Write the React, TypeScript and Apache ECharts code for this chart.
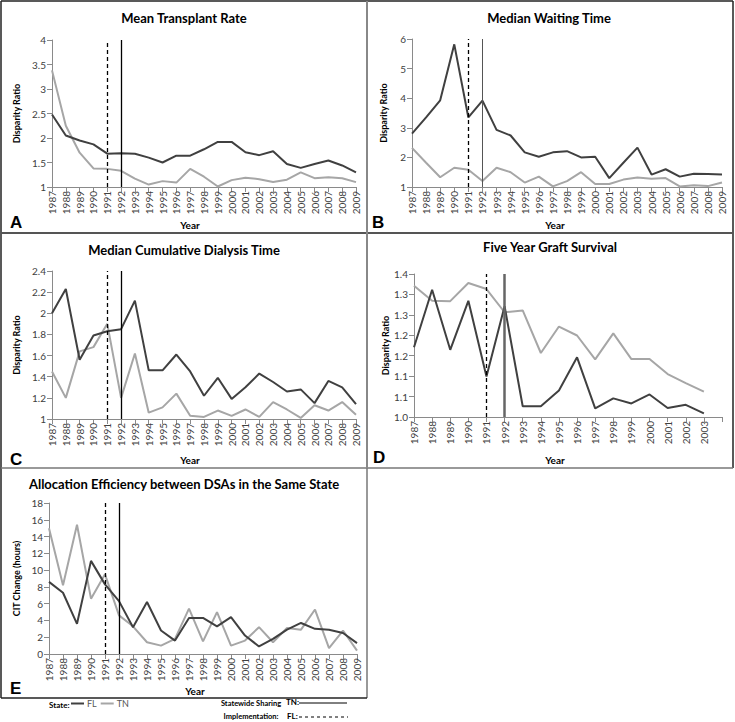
import React, { useEffect, useRef } from "react";
import * as echarts from "echarts";

const YEARS = ["1987","1988","1989","1990","1991","1992","1993","1994","1995","1996","1997","1998","1999","2000","2001","2002","2003","2004","2005","2006","2007","2008","2009"];
const YEARS_D = ["1987","1988","1989","1990","1991","1992","1993","1994","1995","1996","1997","1998","1999","2000","2001","2002","2003",""];

const A_FL = [2.48,2.05,1.95,1.87,1.68,1.69,1.68,1.6,1.5,1.64,1.64,1.77,1.92,1.92,1.71,1.65,1.73,1.47,1.39,1.47,1.54,1.44,1.3];
const A_TN = [3.38,2.25,1.7,1.38,1.37,1.33,1.17,1.05,1.12,1.09,1.37,1.21,1.01,1.14,1.19,1.16,1.1,1.15,1.3,1.18,1.2,1.18,1.1];

const B_FL = [2.8,3.35,3.93,5.82,3.35,3.92,2.93,2.74,2.17,2.02,2.17,2.21,2.0,2.02,1.3,1.82,2.33,1.42,1.6,1.35,1.45,1.44,1.42];
const B_TN = [2.32,1.82,1.33,1.65,1.58,1.2,1.65,1.5,1.15,1.35,1.02,1.2,1.5,1.1,1.1,1.25,1.32,1.28,1.3,1.02,1.06,1.03,1.15];

const C_FL = [2.0,2.23,1.56,1.79,1.83,1.85,2.12,1.46,1.46,1.61,1.45,1.22,1.39,1.19,1.3,1.43,1.35,1.26,1.28,1.15,1.36,1.3,1.14];
const C_TN = [1.45,1.2,1.64,1.68,1.9,1.2,1.62,1.06,1.11,1.24,1.03,1.02,1.08,1.03,1.09,1.02,1.16,1.09,1.01,1.13,1.08,1.16,1.04];

const D_FL = [1.195,1.356,1.188,1.325,1.113,1.31,1.03,1.03,1.074,1.167,1.024,1.052,1.038,1.063,1.025,1.034,1.01];
const D_TN = [1.367,1.325,1.324,1.375,1.358,1.293,1.298,1.179,1.253,1.228,1.161,1.234,1.162,1.162,1.12,1.095,1.071];
const D_TICK_LABELS = ["1.0","1.1","1.1","1.2","1.2","1.3","1.3","1.4"];

const E_FL = [8.6,7.3,3.6,11.1,8.3,6.3,3.2,6.2,2.8,1.6,4.3,4.3,3.3,4.4,2.2,0.9,1.8,2.9,3.7,3.0,2.9,2.5,1.3];
const E_TN = [15.0,8.2,15.4,6.6,9.5,4.6,3.3,1.4,1.0,1.8,5.4,1.5,5.0,1.0,1.6,3.2,1.4,3.1,2.9,5.3,0.7,2.8,0.4];

const TITLES = [
  "Mean Transplant Rate",
  "Median Waiting Time",
  "Median Cumulative Dialysis Time",
  "Five Year Graft Survival",
  "Allocation Efficiency between DSAs in the Same State",
];
const Y_NAMES = ["Disparity Ratio","Disparity Ratio","Disparity Ratio","Disparity Ratio","CIT Change (hours)"];
const LETTERS = ["A","B","C","D","E"];

const FONT = "Lato, 'Open Sans', sans-serif";
const FL_COLOR = "#404040";
const TN_COLOR = "#a6a6a6";
const AXIS_COLOR = "#8a8a8a";
const LABEL_COLOR = "#404040";

export default function App() {
  const ref = useRef<HTMLDivElement>(null);

  useEffect(() => {
    if (!ref.current) return;
    const chart = echarts.init(ref.current, null, { renderer: "svg" });

    const grids = [
      { left: 52, top: 40, width: 304, height: 147 },
      { left: 412, top: 39, width: 310, height: 148 },
      { left: 52, top: 271, width: 304, height: 148 },
      { left: 414, top: 274, width: 308, height: 143 },
      { left: 49, top: 503, width: 308, height: 151 },
    ];

    const yCfg = [
      { min: 1, max: 4, interval: 0.5, nameGap: 31 },
      { min: 1, max: 6, interval: 1, nameGap: 24 },
      { min: 1, max: 2.4, interval: 0.2, nameGap: 31 },
      { min: 1, max: 1.4, nameGap: 19 },
      { min: 0, max: 18, interval: 2, nameGap: 28 },
    ];

    const dStep = 0.4 / 7;
    const dTicks = D_TICK_LABELS.map((_, i) => 1 + i * dStep);

    const xAxes = grids.map((_, i) => ({
      type: "category",
      gridIndex: i,
      data: i === 3 ? YEARS_D : YEARS,
      boundaryGap: false,
      axisLine: { lineStyle: { color: AXIS_COLOR, width: 1 } },
      axisTick: { show: true, alignWithLabel: true, lineStyle: { color: AXIS_COLOR } },
      axisLabel: {
        interval: 0,
        rotate: 90,
        fontSize: 10,
        color: LABEL_COLOR,
        fontFamily: FONT,
        margin: 4,
      },
    }));

    const yAxes = grids.map((_, i) => {
      const c = yCfg[i];
      const base: any = {
        type: "value",
        gridIndex: i,
        min: c.min,
        max: c.max,
        name: Y_NAMES[i],
        nameLocation: "middle",
        nameGap: c.nameGap,
        nameTextStyle: { fontSize: 9, fontWeight: "bold", color: "#000", fontFamily: FONT },
        axisLine: { show: true, lineStyle: { color: AXIS_COLOR, width: 1 } },
        axisTick: { show: true, lineStyle: { color: AXIS_COLOR } },
        splitLine: { show: false },
        axisLabel: { fontSize: 10, color: LABEL_COLOR, fontFamily: FONT, margin: 6 },
      };
      if (i === 3) {
        base.axisLabel.customValues = dTicks;
        base.axisTick.customValues = dTicks;
        base.axisLabel.formatter = (v: number) => {
          const k = Math.round((v - 1) / dStep);
          return D_TICK_LABELS[k] ?? "";
        };
      } else {
        base.interval = c.interval;
      }
      return base;
    });

    const data = [
      [A_FL, A_TN],
      [B_FL, B_TN],
      [C_FL, C_TN],
      [D_FL, D_TN],
      [E_FL, E_TN],
    ];

    const solidStyle = [
      { color: "#000", width: 1.3 },
      { color: "#555", width: 1 },
      { color: "#000", width: 1.3 },
      { color: "#666", width: 2.5 },
      { color: "#000", width: 1.3 },
    ];

    const series: any[] = [];
    data.forEach((pair, i) => {
      series.push({
        type: "line",
        name: "FL",
        xAxisIndex: i,
        yAxisIndex: i,
        data: pair[0],
        color: FL_COLOR,
        showSymbol: false,
        symbol: "none",
        lineStyle: { color: FL_COLOR, width: 2 },
        z: 3,
      });
      series.push({
        type: "line",
        name: "TN",
        xAxisIndex: i,
        yAxisIndex: i,
        data: pair[1],
        color: TN_COLOR,
        showSymbol: false,
        symbol: "none",
        lineStyle: { color: TN_COLOR, width: 2 },
        z: 2,
        markLine: {
          silent: true,
          symbol: "none",
          label: { show: false },
          data: [
            { xAxis: "1991", lineStyle: { type: [4, 3], color: "#000", width: 1.3 } },
            { xAxis: "1992", lineStyle: { type: "solid", ...solidStyle[i] } },
          ],
        },
      });
    });

    const titleCenters = [
      [184, 19],
      [549, 19],
      [184, 251],
      [550, 248],
      [184, 485],
    ];

    const titles = TITLES.map((t, i) => ({
      text: t,
      left: titleCenters[i][0],
      top: titleCenters[i][1] - 8,
      textAlign: "center",
      padding: 0,
      textStyle: { fontSize: 13, fontWeight: "bold", color: "#000", fontFamily: FONT },
    }));

    const yearPos = [
      [190, 225],
      [555, 225],
      [190, 460],
      [555, 460],
      [195, 691],
    ];
    const letterPos = [
      [10, 222],
      [372, 222],
      [10, 459],
      [373, 457],
      [10, 688],
    ];

    const graphic: any[] = [];
    const border = (x1: number, y1: number, x2: number, y2: number, color: string, w: number) =>
      graphic.push({
        type: "line",
        shape: { x1, y1, x2, y2 },
        style: { stroke: color, lineWidth: w },
        silent: true,
      });
    border(1, 1, 733, 1, "#222", 1.5);
    border(1, 1, 1, 698, "#222", 1.5);
    border(733, 1, 733, 468, "#222", 1.5);
    border(1, 233, 733, 233, "#555", 2);
    border(1, 468, 733, 468, "#777", 1.5);
    border(367, 1, 367, 468, "#888", 2);
    border(367, 468, 367, 698, "#777", 1.5);
    border(1, 698, 367, 698, "#222", 1.5);

    yearPos.forEach((p) =>
      graphic.push({
        type: "text",
        x: p[0],
        y: p[1],
        style: {
          text: "Year",
          fontSize: 10,
          fontWeight: "bold",
          fill: "#000",
          fontFamily: FONT,
          align: "center",
          verticalAlign: "middle",
        },
      })
    );
    LETTERS.forEach((l, i) =>
      graphic.push({
        type: "text",
        x: letterPos[i][0],
        y: letterPos[i][1],
        style: {
          text: l,
          fontSize: 17,
          fontWeight: "bold",
          fill: "#000",
          fontFamily: "Liberation Sans, Arial, sans-serif",
          align: "left",
          verticalAlign: "middle",
        },
      })
    );

    const smallBold = (text: string, x: number, y: number, align = "left", size = 8) =>
      graphic.push({
        type: "text",
        x,
        y,
        style: {
          text,
          fontSize: size,
          fontWeight: "bold",
          fill: "#000",
          fontFamily: FONT,
          align,
          verticalAlign: "middle",
        },
      });
    smallBold("State:", 49, 705);
    smallBold("Statewide Sharing", 251, 703, "center", 7.5);
    smallBold("Implementation:", 251, 716, "center", 7.5);
    smallBold("TN:", 286, 702);
    smallBold("FL:", 287, 716);
    graphic.push({
      type: "line",
      shape: { x1: 299, y1: 703, x2: 347, y2: 703 },
      style: { stroke: "#000", lineWidth: 1 },
    });
    graphic.push({
      type: "line",
      shape: { x1: 299, y1: 717, x2: 348, y2: 717 },
      style: { stroke: "#000", lineWidth: 1, lineDash: [3, 3] },
    });

    chart.setOption({
      animation: false,
      backgroundColor: "#fff",
      title: titles,
      grid: grids.map((g) => ({ ...g, containLabel: false })),
      xAxis: xAxes,
      yAxis: yAxes,
      legend: {
        data: ["FL", "TN"],
        left: 71,
        top: 699,
        icon: "rect",
        itemWidth: 13,
        itemHeight: 2,
        itemGap: 4,
        selectedMode: false,
        padding: 0,
        textStyle: { fontSize: 9, color: "#555", fontFamily: FONT, padding: [0, 0, 0, -2] },
      },
      series,
      graphic,
    });

    return () => chart.dispose();
  }, []);

  return (
    <div
      ref={ref}
      style={{ position: "fixed", left: 0, top: 0, width: 735, height: 722, background: "#fff" }}
    />
  );
}
